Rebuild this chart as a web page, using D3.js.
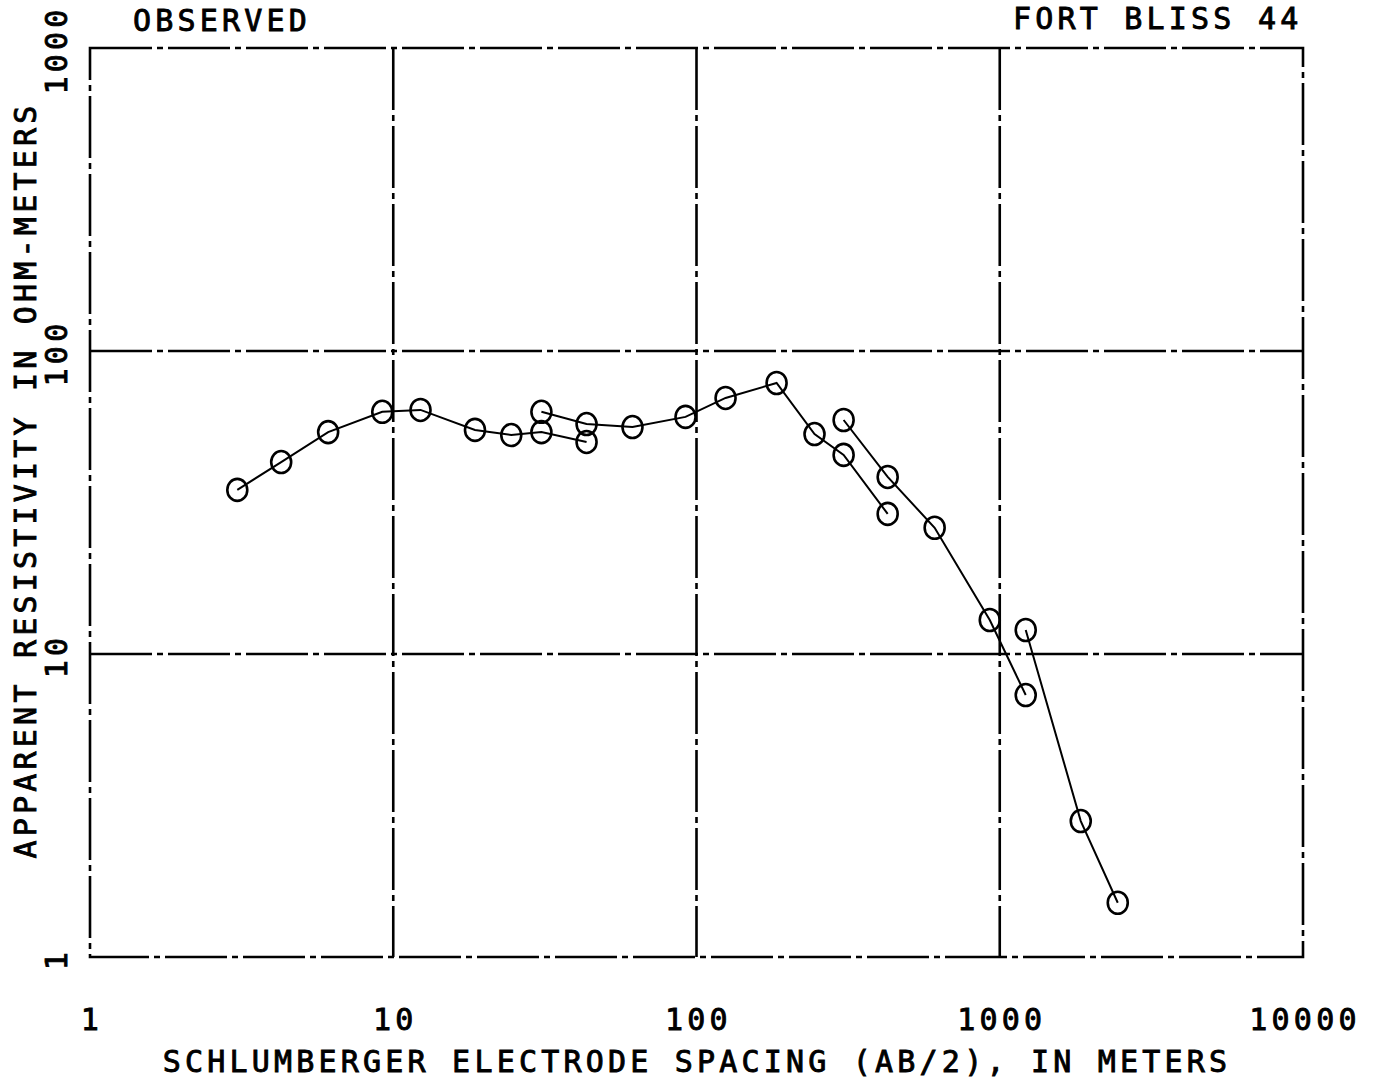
<!DOCTYPE html>
<html>
<head>
<meta charset="utf-8">
<script src="https://cdn.jsdelivr.net/npm/d3@7"></script>
<style>
  html, body { margin: 0; padding: 0; background: #fff; }
  svg text { font-family: "DejaVu Sans Mono", "Liberation Mono", monospace; font-size: 30px; fill: #000; stroke: #000; stroke-width: 0.9px; letter-spacing: 4.2px; }
</style>
</head>
<body>
<svg id="chart" width="1373" height="1080"></svg>
<script>
// sounding data (AB/2 in m, apparent resistivity in ohm-m)
const seg1Spacing = [3.06, 4.27, 6.1, 9.2, 12.3, 18.6, 24.5, 30.8, 43.4];
const seg1Rho     = [34.8, 43.0, 54, 63, 63.9, 54.9, 52.8, 54, 50.1];
const seg2Spacing = [30.8, 43.4, 61.5, 92, 124.7, 183.7, 245, 305.6, 427];
const seg2Rho     = [63, 57.4, 56.1, 60.6, 70, 78.4, 53.2, 45.4, 29.0];
const seg3Spacing = [305.6, 427, 610, 927, 1218];
const seg3Rho     = [59.2, 38.4, 26.1, 12.95, 7.32];
const seg4Spacing = [1218, 1850, 2450];
const seg4Rho     = [12.0, 2.81, 1.51];

const xTicks = [1, 10, 100, 1000, 10000];
const yTicks = [1, 10, 100, 1000];

const segments = [
  [seg1Spacing, seg1Rho],
  [seg2Spacing, seg2Rho],
  [seg3Spacing, seg3Rho],
  [seg4Spacing, seg4Rho]
].map(([xs, ys]) => xs.map((x, i) => ({ x: x, y: ys[i] })));

const svg = d3.select("#chart");
const padL = 90, padR = 1303, padT = 48, padB = 957;

const xScale = d3.scaleLog().domain([1, 10000]).range([padL, padR]);
const yScale = d3.scaleLog().domain([1, 1000]).range([padB, padT]);

const dash = "62,5,6,5";

// grid lines (inner decades)
svg.append("g").selectAll("line")
  .data(xTicks.slice(1, -1))
  .enter().append("line")
  .attr("x1", d => xScale(d)).attr("x2", d => xScale(d))
  .attr("y1", padT).attr("y2", padB)
  .attr("stroke", "#000").attr("stroke-width", 2.6)
  .attr("stroke-dasharray", dash);

svg.append("g").selectAll("line")
  .data(yTicks.slice(1, -1))
  .enter().append("line")
  .attr("x1", padL).attr("x2", padR)
  .attr("y1", d => yScale(d)).attr("y2", d => yScale(d))
  .attr("stroke", "#000").attr("stroke-width", 2.6)
  .attr("stroke-dasharray", dash);

// frame
svg.append("rect")
  .attr("x", padL).attr("y", padT)
  .attr("width", padR - padL).attr("height", padB - padT)
  .attr("fill", "none")
  .attr("stroke", "#000").attr("stroke-width", 2.6)
  .attr("stroke-dasharray", dash);

// curves
const line = d3.line()
  .x(d => xScale(d.x))
  .y(d => yScale(d.y));

const gData = svg.append("g");
gData.selectAll("path")
  .data(segments)
  .enter().append("path")
  .attr("d", line)
  .attr("fill", "none")
  .attr("stroke", "#000")
  .attr("stroke-width", 2);

gData.selectAll("ellipse")
  .data(segments.flat())
  .enter().append("ellipse")
  .attr("cx", d => xScale(d.x))
  .attr("cy", d => yScale(d.y))
  .attr("rx", 10)
  .attr("ry", 11)
  .attr("fill", "none")
  .attr("stroke", "#000")
  .attr("stroke-width", 2.6);

// x tick labels
svg.append("g").selectAll("text")
  .data(xTicks)
  .enter().append("text")
  .attr("x", d => xScale(d) + 2)
  .attr("y", 1030)
  .attr("text-anchor", "middle")
  .text(d => d);

// y tick labels (rotated)
svg.append("g").selectAll("text")
  .data(yTicks)
  .enter().append("text")
  .attr("transform", d => `translate(67, ${yScale(d) + 2}) rotate(-90)`)
  .attr("text-anchor", "middle")
  .text(d => d);

// titles
svg.append("text")
  .attr("x", 133).attr("y", 31)
  .text("OBSERVED");

svg.append("text")
  .attr("x", 1013).attr("y", 29)
  .text("FORT BLISS 44");

svg.append("text")
  .attr("x", 697).attr("y", 1072)
  .attr("text-anchor", "middle")
  .text("SCHLUMBERGER ELECTRODE SPACING (AB/2), IN METERS");

svg.append("text")
  .attr("transform", "translate(36, 480) rotate(-90)")
  .attr("text-anchor", "middle")
  .text("APPARENT RESISTIVITY IN OHM-METERS");
</script>
</body>
</html>
